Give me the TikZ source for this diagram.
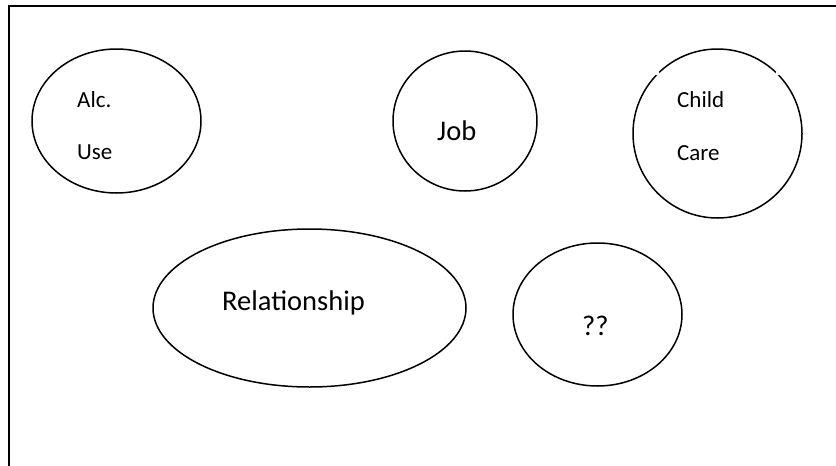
\documentclass[tikz,border=0pt]{standalone}
\usepackage{fontspec}
\setmainfont{Carlito}
\usetikzlibrary{shapes.geometric}
\begin{document}
\begin{tikzpicture}[x=1pt,y=-1pt,
  blob/.style={draw, ellipse, line width=1.5pt, inner sep=0pt},
  bigtext/.style={anchor=base west, inner sep=0pt, font=\fontsize{28.5}{32}\selectfont},
  smalltext/.style={anchor=base west, inner sep=0pt, font=\fontsize{23}{27}\selectfont}]
\useasboundingbox (0,0) rectangle (836,466);
\draw[line width=2pt] (8.5,467) -- (8.5,6) -- (837,6);
\node[blob, minimum width=169pt, minimum height=144pt] (alc) at (116.5,121) {};
\node[blob, minimum width=144pt, minimum height=140pt] (job) at (465,121) {};
\node[blob, minimum width=169pt, minimum height=169pt] (child) at (717.5,133.5) {};
\node[blob, minimum width=313pt, minimum height=158pt] (rel) at (309.5,308) {};
\node[blob, minimum width=169pt, minimum height=143pt] (qq) at (597.5,314.5) {};
\fill[white] (child.135) circle (2.2pt);
\fill[white] (child.45) circle (2.2pt);
\node[smalltext] (alc1) at (77,107) {Alc.};
\node[smalltext] (alc2) at (77,159) {Use};
\node[bigtext] (jobt) at (437,140) {Job};
\node[smalltext] (ch1) at (677,107) {Child};
\node[smalltext] (ch2) at (677,160) {Care};
\node[bigtext] (relt) at (222,310) {Relationship};
\node[bigtext] (qqt) at (582,335) {??};
\end{tikzpicture}
\end{document}
